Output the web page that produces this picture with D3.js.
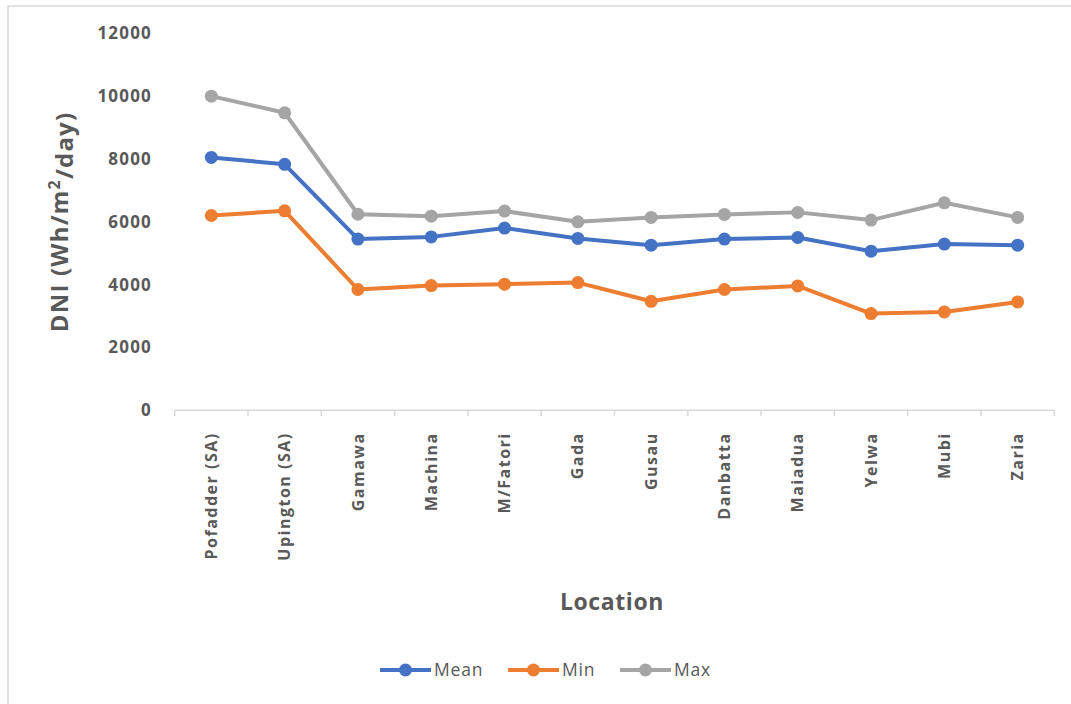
<!DOCTYPE html>
<html>
<head>
<meta charset="utf-8">
<script src="https://cdn.jsdelivr.net/npm/d3@7"></script>
<style>
  html, body { margin: 0; padding: 0; background: #fff; }
  svg { display: block; }
</style>
</head>
<body>
<svg id="chart" width="1071" height="704"></svg>
<script>
// Daily direct normal irradiance by location
const locations = ["Pofadder (SA)", "Upington (SA)", "Gamawa", "Machina", "M/Fatori", "Gada",
                   "Gusau", "Danbatta", "Maiadua", "Yelwa", "Mubi", "Zaria"];
const meanValues = [8050, 7830, 5450, 5520, 5800, 5470, 5255, 5450, 5500, 5065, 5290, 5255];
const minValues  = [6200, 6350, 3845, 3970, 4015, 4065, 3470, 3845, 3960, 3080, 3130, 3450];
const maxValues  = [10000, 9470, 6240, 6180, 6340, 6000, 6140, 6235, 6300, 6055, 6605, 6140];
const yTicks = [0, 2000, 4000, 6000, 8000, 10000, 12000];
const seriesNames = ["Mean", "Min", "Max"];
const seriesColors = ["#4472C4", "#ED7D31", "#A5A5A5"];

const series = [meanValues, minValues, maxValues].map((vals, i) => ({
  name: seriesNames[i], color: seriesColors[i], values: vals
}));

const svg = d3.select("#chart");
const font = "'Open Sans', 'Noto Sans', sans-serif";
const textColor = "#595959";

// chart area frame
svg.append("rect")
  .attr("x", 8).attr("y", 6).attr("width", 1100).attr("height", 720)
  .attr("fill", "none").attr("stroke", "#d9d9d9").attr("stroke-width", 1.5);

const plot = { left: 174.7, right: 1054.3, top: 33.3, bottom: 410.3 };

const x = d3.scaleBand().domain(locations).range([plot.left, plot.right]).padding(0);
const y = d3.scaleLinear().domain([0, 12000]).range([plot.bottom, plot.top]);

// x axis: baseline with ticks at category boundaries
const xAxis = svg.append("g").attr("transform", `translate(0,${plot.bottom})`);
xAxis.append("line")
  .attr("x1", plot.left).attr("x2", plot.right)
  .attr("stroke", "#d9d9d9").attr("stroke-width", 1.5);
const boundaries = locations.map(l => x(l)).concat([plot.right]);
xAxis.selectAll("line.tick").data(boundaries).join("line")
  .attr("class", "tick")
  .attr("x1", d => d).attr("x2", d => d)
  .attr("y1", 0).attr("y2", 6)
  .attr("stroke", "#d9d9d9").attr("stroke-width", 1.5);

xAxis.selectAll("text").data(locations).join("text")
  .attr("transform", d => `translate(${x(d) + x.bandwidth() / 2},22) rotate(-90)`)
  .attr("text-anchor", "end")
  .attr("dy", "0.35em")
  .attr("font-family", font).attr("font-weight", 700)
  .attr("font-size", 16).attr("letter-spacing", 1.5).attr("fill", textColor)
  .text(d => d);

// y axis tick labels (no axis line)
const yAxis = d3.axisLeft(y).tickValues(yTicks).tickFormat(d3.format("d")).tickSize(0).tickPadding(0);
const yG = svg.append("g").attr("transform", `translate(152,0)`).call(yAxis);
yG.select(".domain").remove();
yG.selectAll("text")
  .attr("font-family", font).attr("font-weight", 700)
  .attr("font-size", 17).attr("letter-spacing", 1.2).attr("fill", textColor);

// axis titles
const yTitle = svg.append("text")
  .attr("transform", "translate(60,222) rotate(-90)")
  .attr("text-anchor", "middle").attr("dy", "0.35em")
  .attr("font-family", font).attr("font-weight", 700)
  .attr("font-size", 24).attr("letter-spacing", 1.2).attr("fill", textColor);
yTitle.append("tspan").text("DNI (Wh/m");
yTitle.append("tspan").attr("font-size", 16).attr("dy", "-0.55em").text("2");
yTitle.append("tspan").attr("dy", "0.55em").text("/day)");

svg.append("text")
  .attr("x", 612).attr("y", 602).attr("dy", "0.35em")
  .attr("text-anchor", "middle")
  .attr("font-family", font).attr("font-weight", 700)
  .attr("font-size", 23).attr("letter-spacing", 0.6).attr("fill", textColor)
  .text("Location");

// series lines and markers
const line = d3.line()
  .x((d, i) => x(locations[i]) + x.bandwidth() / 2)
  .y(d => y(d));

// Max drawn first, Mean last so it sits on top
series.slice().reverse().forEach(s => {
  const g = svg.append("g");
  g.append("path")
    .attr("d", line(s.values))
    .attr("fill", "none").attr("stroke", s.color)
    .attr("stroke-width", 4).attr("stroke-linejoin", "round");
  g.selectAll("circle").data(s.values).join("circle")
    .attr("cx", (d, i) => x(locations[i]) + x.bandwidth() / 2)
    .attr("cy", d => y(d))
    .attr("r", 6.5)
    .attr("fill", s.color);
});

// legend
const legendItems = [
  { name: "Mean", x: 380 },
  { name: "Min", x: 508 },
  { name: "Max", x: 620 }
];
const legend = svg.append("g").attr("transform", "translate(0,670)");
legendItems.forEach((item, i) => {
  const g = legend.append("g").attr("transform", `translate(${item.x},0)`);
  g.append("line").attr("x1", 0).attr("x2", 51)
    .attr("stroke", seriesColors[i]).attr("stroke-width", 4);
  g.append("circle").attr("cx", 25.5).attr("cy", 0).attr("r", 6.5)
    .attr("fill", seriesColors[i]);
  g.append("text").attr("x", 54).attr("dy", "0.35em")
    .attr("font-family", font).attr("font-size", 17.5).attr("letter-spacing", 0.8)
    .attr("fill", textColor)
    .text(seriesNames[i]);
});
</script>
</body>
</html>
